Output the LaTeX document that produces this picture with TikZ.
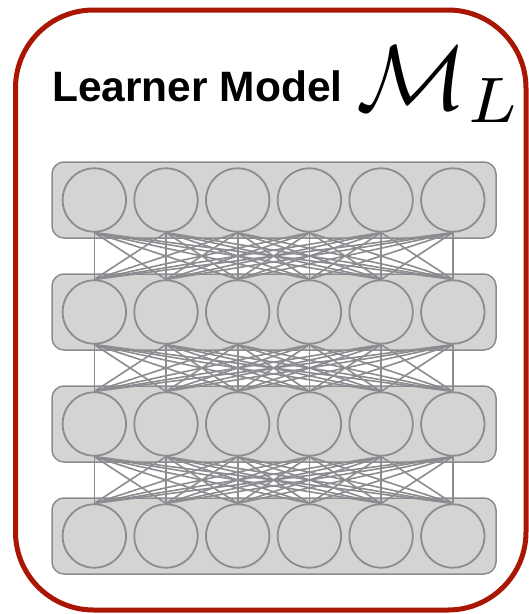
\documentclass[tikz,border=0pt]{standalone}
\usepackage{fontspec}
\setmainfont{Liberation Sans}
\definecolor{framered}{RGB}{170,22,4}
\definecolor{cellfill}{RGB}{212,213,211}
\definecolor{wiregray}{RGB}{138,140,143}
\tikzset{
  layerbox/.style={draw=wiregray, fill=cellfill, line width=1.5pt, rounded corners=12pt,
    minimum width=444pt, minimum height=76pt, inner sep=0pt},
  unit/.style={circle, draw=wiregray, fill=cellfill, line width=1.8pt, minimum size=63.4pt, inner sep=0pt},
  wire/.style={draw=wiregray, line width=1.6pt},
}
\begin{document}
\begin{tikzpicture}[x=1pt,y=-1pt]
\useasboundingbox (0,0) rectangle (529,614);
% outer frame
\draw[framered, line width=5pt, rounded corners=78pt] (15.5,10) rectangle (526,610);
% title
\node[anchor=base west, inner sep=0pt, font=\fontsize{42.5}{42.5}\selectfont\bfseries] (title) at (52,101) {Learner Model};
\node[anchor=base west, inner sep=0pt, scale=9.2] (sym) at (355,109) {$\mathcal{M}_L$};
% layers and units
\foreach \k in {0,...,3} {
  \node[layerbox] (layer\k) at (274, 200+112*\k) {};
  \foreach \i in {0,...,5}
    \node[unit] (n\k-\i) at (94.3+71.7*\i, 200+112*\k) {};
}
% full connections between consecutive layers
\foreach \k/\kk in {0/1,1/2,2/3}
  \foreach \i in {0,...,5}
    \foreach \j in {0,...,5}
      \draw[wire] (n\k-\i.south) -- (n\kk-\j.north);
\end{tikzpicture}
\end{document}
